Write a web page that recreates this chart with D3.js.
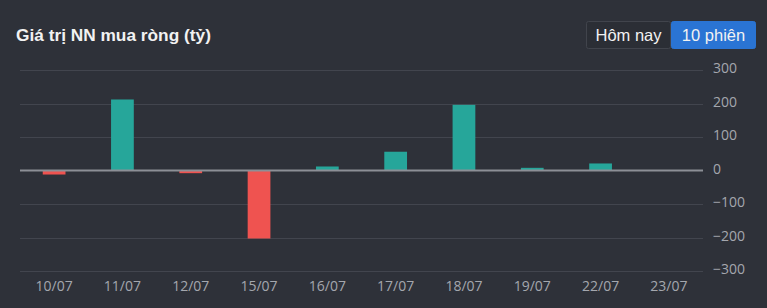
<!DOCTYPE html>
<html>
<head>
<meta charset="utf-8">
<script src="https://cdn.jsdelivr.net/npm/d3@7"></script>
<style>
  html, body { margin: 0; padding: 0; background: #2e3139; }
  svg { display: block; }
</style>
</head>
<body>
<svg id="chart" width="767" height="308"></svg>
<script>
// Data
const dates = ["10/07", "11/07", "12/07", "15/07", "16/07", "17/07", "18/07", "19/07", "22/07", "23/07"];
const netValues = [-12, 212, -8, -203, 12, 56, 196, 8, 21, 0];
const yTicks = [-300, -200, -100, 0, 100, 200, 300];
const buttons = ["Hôm nay", "10 phiên"];

const svg = d3.select("#chart");
const width = 767, height = 308;
const margin = { top: 70, right: 64, bottom: 37, left: 20 };

svg.append("rect").attr("width", width).attr("height", height).attr("fill", "#2e3139");

// Title
svg.append("text")
    .attr("x", 16).attr("y", 41)
    .attr("fill", "#f2f2f2")
    .attr("font-family", "Liberation Sans, Arial, sans-serif")
    .attr("font-weight", "bold")
    .attr("font-size", 17.3)
    .text("Giá trị NN mua ròng (tỷ)");

// Toggle buttons
const btnX = [586, 671], btnW = [85, 85];
const btn = svg.append("g");
buttons.forEach((b, i) => {
    btn.append("rect")
        .attr("x", btnX[i] + 0.5).attr("y", 21.5)
        .attr("width", btnW[i] - 1).attr("height", 27)
        .attr("rx", 2)
        .attr("fill", i === 0 ? "#2b2e35" : "#2a74d4")
        .attr("stroke", i === 0 ? "#41444c" : "#2a74d4");
    btn.append("text")
        .attr("x", btnX[i] + btnW[i] / 2).attr("y", 41)
        .attr("text-anchor", "middle")
        .attr("fill", "#f2f2f2")
        .attr("font-family", "Liberation Sans, Arial, sans-serif")
        .attr("font-size", 16.5)
        .text(b);
});

// Scales
const x = d3.scaleBand()
    .domain(dates)
    .range([margin.left, width - margin.right])
    .paddingInner(0.667)
    .paddingOuter(0.333);

const y = d3.scaleLinear()
    .domain([-300, 300])
    .range([height - margin.bottom, margin.top]);

// Grid
svg.append("g")
    .selectAll("line")
    .data(yTicks.filter(d => d !== 0))
    .join("line")
    .attr("x1", margin.left).attr("x2", width - margin.right)
    .attr("y1", d => Math.round(y(d)) + 0.5).attr("y2", d => Math.round(y(d)) + 0.5)
    .attr("stroke", "#42454e")
    .attr("stroke-width", 1);

// Y axis (right)
const yAxis = svg.append("g")
    .attr("transform", `translate(${width - margin.right},0)`)
    .call(d3.axisRight(y).tickValues(yTicks).tickSize(0).tickPadding(10));
yAxis.select(".domain").remove();
yAxis.selectAll("text")
    .attr("dy", "0.2em")
    .attr("fill", "#a4a7ae")
    .attr("font-family", "Open Sans, DejaVu Sans, sans-serif")
    .attr("font-size", 14);

// X axis
const xAxis = svg.append("g")
    .attr("transform", `translate(0,${height - margin.bottom})`)
    .call(d3.axisBottom(x).tickSize(0).tickPadding(10));
xAxis.select(".domain").remove();
xAxis.selectAll("text")
    .attr("fill", "#a4a7ae")
    .attr("font-family", "Open Sans, DejaVu Sans, sans-serif")
    .attr("font-size", 14);

// Bars
svg.append("g")
    .selectAll("rect")
    .data(dates.map((d, i) => ({ date: d, value: netValues[i] })))
    .join("rect")
    .attr("x", d => x(d.date))
    .attr("width", x.bandwidth())
    .attr("y", d => y(Math.max(0, d.value)))
    .attr("height", d => Math.abs(y(d.value) - y(0)))
    .attr("fill", d => d.value >= 0 ? "#26a69a" : "#ef5350");

// Zero line
svg.append("line")
    .attr("x1", margin.left).attr("x2", width - margin.right)
    .attr("y1", y(0)).attr("y2", y(0))
    .attr("stroke", "#8c8f96")
    .attr("stroke-width", 2);
</script>
</body>
</html>
